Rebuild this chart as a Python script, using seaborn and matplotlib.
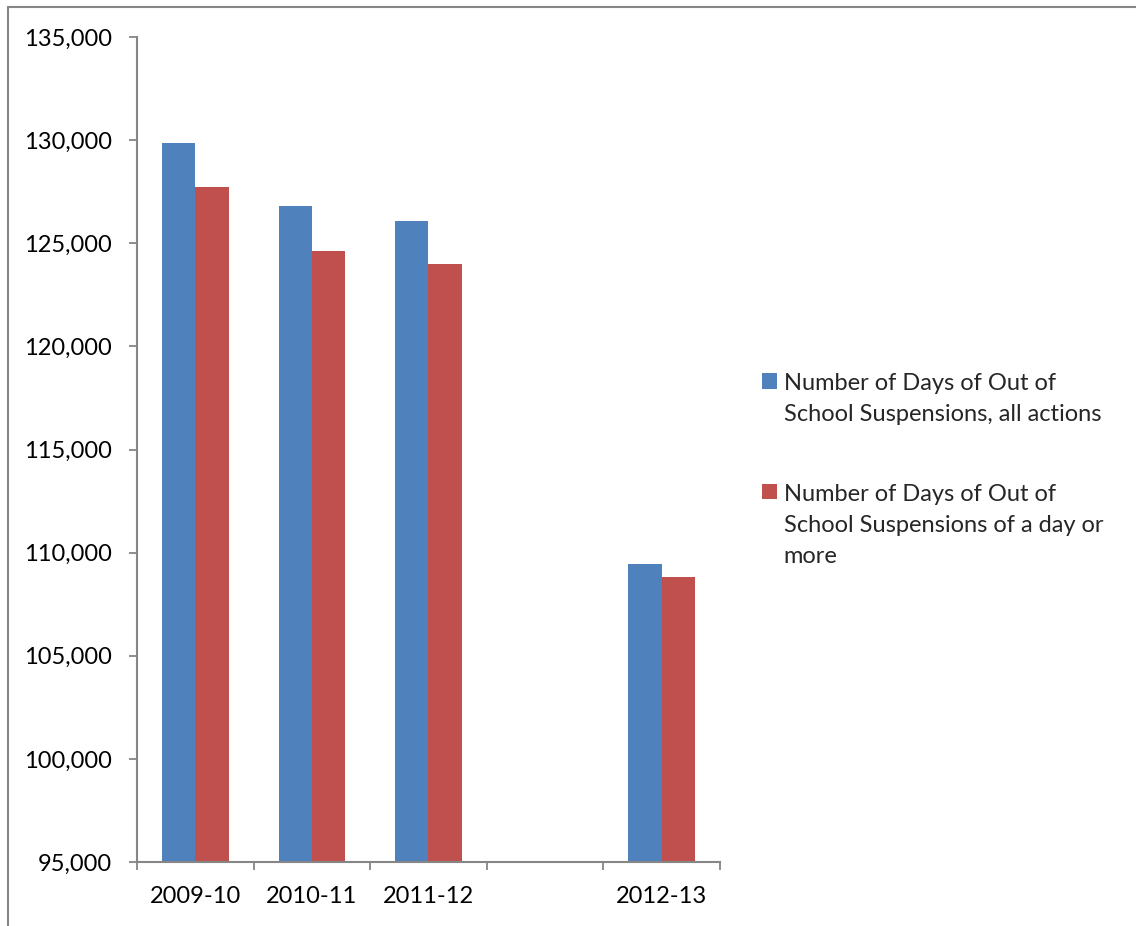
import matplotlib
matplotlib.use("Agg")
import matplotlib.pyplot as plt
from matplotlib.lines import Line2D
from matplotlib.ticker import FuncFormatter, FixedLocator
import numpy as np
import pandas as pd
import seaborn as sns

# School years (the blank slot keeps the gap before 2012-13)
years = ["2009-10", "2010-11", "2011-12", " ", "2012-13"]
all_actions = [129850, 126800, 126080, np.nan, 109450]
day_or_more = [127730, 124620, 123990, np.nan, 108820]
series_names = [
    "Number of Days of Out of\nSchool Suspensions, all actions",
    "Number of Days of Out of\nSchool Suspensions of a day or\nmore",
]
colors = ["#4F81BD", "#C0504D"]
y_ticks = [95000, 100000, 105000, 110000, 115000, 120000, 125000, 130000, 135000]

df = pd.DataFrame({
    "year": years * 2,
    "days": all_actions + day_or_more,
    "series": [series_names[0]] * len(years) + [series_names[1]] * len(years),
})

sns.set_theme(style="white")
plt.rcParams["font.family"] = ["Lato", "DejaVu Sans"]

grey = "#868686"
fs = 17
fig = plt.figure(figsize=(11.36, 9.26), dpi=100)
ax = fig.add_axes([137 / 1136, 1 - 862 / 926, (720 - 137) / 1136, (862 - 37) / 926])

sns.barplot(data=df, x="year", y="days", hue="series", order=years,
            hue_order=series_names, palette=colors, width=0.57,
            saturation=1, linewidth=0, ax=ax, legend=True)

ax.set_ylim(y_ticks[0], y_ticks[-1])
ax.set_xlim(-0.5, len(years) - 0.5)
ax.set_yticks(y_ticks)
ax.yaxis.set_major_formatter(FuncFormatter(lambda v, p: f"{int(v):,}"))
ax.set_xlabel("")
ax.set_ylabel("")

# category labels centred, tick marks on the category boundaries
ax.set_xticks(range(len(years)))
ax.set_xticklabels(years)
ax.xaxis.set_minor_locator(FixedLocator(np.arange(-0.5, len(years), 1.0)))
ax.tick_params(axis="x", which="major", length=0, pad=17, labelsize=fs,
               colors="black")
ax.tick_params(axis="x", which="minor", length=6, width=1.3, color=grey,
               direction="out", bottom=True)
ax.tick_params(axis="y", which="major", length=6, width=1.3, color=grey,
               direction="out", left=True, pad=12, labelsize=fs,
               labelcolor="black")

for side in ["top", "right"]:
    ax.spines[side].set_visible(False)
for side in ["left", "bottom"]:
    ax.spines[side].set_color(grey)
    ax.spines[side].set_linewidth(1.5)

# legend on the right, swatch aligned with the first line of each label
handles, labels = ax.get_legend_handles_labels()
ax.get_legend().remove()
leg = fig.legend(handles, labels, loc="center left",
                 bbox_to_anchor=(762 / 1136, 1 - 470 / 926),
                 frameon=False, fontsize=fs, handlelength=0.62,
                 handleheight=0.62, handletextpad=0.3, labelspacing=2.5,
                 borderpad=0, borderaxespad=0)
for t in leg.get_texts():
    t.set_linespacing(1.57)
for col in leg._legend_handle_box.get_children():
    for row in col.get_children():
        row.align = "top"

# outer chart frame (top and left edges)
fig.add_artist(Line2D([8 / 1136, 1.0], [1 - 7 / 926, 1 - 7 / 926],
                      transform=fig.transFigure, color=grey, lw=1.5))
fig.add_artist(Line2D([8 / 1136, 8 / 1136], [0.0, 1 - 7 / 926],
                      transform=fig.transFigure, color=grey, lw=1.5))

fig.savefig("out.png", dpi=100)
